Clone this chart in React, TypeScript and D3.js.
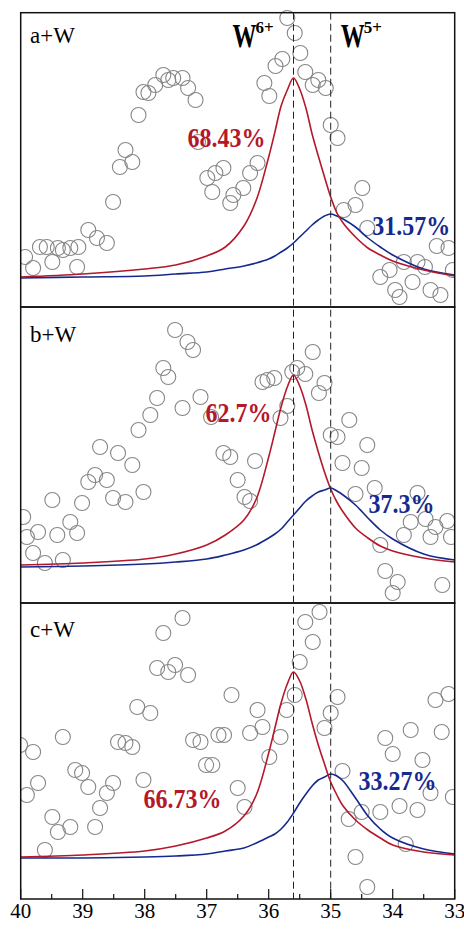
import React from 'react';
import * as d3 from 'd3';

// binding energy axis (eV), reversed
const xTicks = [40, 39, 38, 37, 36, 35, 34, 33];
const xMinor = [39.5, 38.5, 37.5, 36.5, 35.5, 34.5, 33.5];
const peakCenters = [35.6, 35.0];
const peakNames = ['6+', '5+'];

const panelNames = ['a+W', 'b+W', 'c+W'];
const redShare = ['68.43%', '62.7%', '66.73%'];
const blueShare = ['31.57%', '37.3%', '33.27%'];

// fitted components (a.u.)
const fitX = [40, 39, 38, 37.5, 37, 36.7, 36.4, 36.2, 36.0, 35.9, 35.8, 35.7, 35.6, 35.5, 35.4,
  35.3, 35.2, 35.1, 35.0, 34.9, 34.8, 34.6, 34.4, 34.2, 34.0, 33.5, 33.0];

const redA = [30, 33, 38, 42, 51, 60, 81, 107, 150, 175, 201, 217, 229, 218, 199,
  173, 151, 130, 110, 94, 84, 70, 59, 52, 46, 37, 31];
const blueA = [29, 30, 31, 33, 35, 38, 41, 44, 48, 51, 55, 59, 64, 70, 76,
  82, 87, 91, 93, 91, 88, 80, 69, 60, 52, 38, 32];

const redB = [38, 40, 44, 49, 58, 68, 83, 104, 146, 171, 196, 216, 228, 217, 198,
  173, 151, 131, 114, 101, 91, 75, 65, 57, 52, 45, 41];
const blueB = [36, 37, 39, 41, 44, 48, 53, 58, 65, 69, 74, 81, 88, 95, 102,
  107, 111, 113, 115, 112, 108, 98, 85, 73, 64, 49, 43];

const redC = [42, 44, 48, 53, 61, 68, 83, 104, 146, 171, 196, 215, 227, 218, 200,
  176, 154, 135, 117, 104, 93, 79, 69, 61, 54, 47, 44];
const blueC = [41, 41, 42, 43, 45, 48, 51, 56, 62, 65, 70, 77, 86, 96, 105,
  113, 119, 122, 125, 123, 118, 101, 83, 70, 61, 50, 45];

// measured points [binding energy, intensity]
const pointsA = [
  [39.93, 50], [39.8, 39], [39.69, 60], [39.58, 60], [39.49, 45], [39.4, 59], [39.32, 57], [39.2, 59],
  [39.09, 40], [39.07, 60], [38.91, 77], [38.77, 69], [38.61, 64], [38.51, 105], [38.4, 140], [38.31, 157],
  [38.2, 145], [38.1, 192], [38.02, 215], [37.94, 214], [37.83, 222], [37.7, 232], [37.62, 227], [37.54, 229],
  [37.39, 229], [37.3, 219], [37.18, 207], [37.14, 165], [36.99, 129], [36.86, 134], [36.73, 139], [36.91, 115],
  [36.62, 104], [36.57, 112], [36.41, 119], [36.3, 134], [36.18, 144], [36.07, 224], [35.99, 211], [35.89, 241],
  [35.78, 248], [35.7, 289], [35.58, 274], [35.49, 254], [35.41, 235], [35.29, 222], [35.2, 227], [35.08, 219],
  [35.0, 182], [34.89, 169], [34.79, 97], [34.6, 102], [34.49, 119], [34.41, 79], [34.2, 30], [34.05, 37],
  [33.96, 17], [33.89, 10], [33.82, 45], [33.68, 25], [33.6, 45], [33.48, 40], [33.39, 17], [33.29, 61],
  [33.23, 12], [33.1, 59], [33.03, 37],
];
const pointsB = [
  [39.96, 86], [39.9, 66], [39.8, 50], [39.72, 71], [39.61, 40], [39.49, 103], [39.41, 68], [39.32, 43],
  [39.2, 81], [39.09, 70], [39.01, 100], [38.91, 121], [38.8, 128], [38.72, 156], [38.61, 123], [38.51, 105],
  [38.43, 150], [38.31, 101], [38.2, 138], [38.1, 173], [38.02, 111], [37.91, 188], [37.8, 205], [37.7, 235],
  [37.62, 226], [37.51, 273], [37.39, 195], [37.31, 261], [37.22, 253], [37.1, 206], [36.93, 186], [36.73, 150],
  [36.62, 146], [36.5, 123], [36.39, 106], [36.3, 102], [36.22, 142], [36.1, 221], [36.02, 223], [35.91, 225],
  [35.81, 185], [35.7, 197], [35.62, 231], [35.54, 235], [35.41, 229], [35.29, 251], [35.19, 210], [35.1, 220],
  [35.0, 168], [34.89, 166], [34.81, 140], [34.7, 183], [34.6, 109], [34.5, 135], [34.41, 158], [34.29, 115],
  [34.2, 58], [34.12, 32], [34.0, 10], [33.92, 21], [33.82, 68], [33.71, 81], [33.6, 110], [33.47, 84],
  [33.39, 66], [33.31, 76], [33.2, 18], [33.12, 82], [33.06, 66],
];
const pointsC = [
  [40.01, 154], [39.9, 104], [39.8, 147], [39.72, 116], [39.61, 49], [39.49, 82], [39.4, 67], [39.32, 162],
  [39.2, 72], [39.12, 129], [39.01, 126], [38.91, 112], [38.8, 72], [38.72, 91], [38.61, 106], [38.51, 116],
  [38.43, 157], [38.31, 156], [38.2, 152], [38.12, 192], [38.02, 119], [37.91, 186], [37.8, 231], [37.7, 266],
  [37.62, 227], [37.51, 234], [37.39, 281], [37.3, 224], [37.22, 159], [37.1, 157], [37.01, 134], [36.91, 134],
  [36.81, 164], [36.72, 164], [36.6, 204], [36.5, 111], [36.39, 92], [36.3, 166], [36.18, 189], [36.1, 172],
  [35.99, 142], [35.81, 162], [35.71, 189], [35.58, 204], [35.5, 237], [35.41, 277], [35.29, 257], [35.18, 287],
  [35.1, 171], [35.0, 186], [34.89, 202], [34.81, 128], [34.71, 80], [34.6, 42], [34.5, 87], [34.41, 12],
  [34.2, 87], [34.12, 161], [34.0, 145], [33.89, 93], [33.79, 55], [33.71, 169], [33.6, 89], [33.52, 139],
  [33.39, 106], [33.31, 199], [33.21, 167], [33.1, 205], [33.03, 102],
];

const panels = [
  { name: panelNames[0], red: redA, blue: blueA, pts: pointsA, redTxt: redShare[0], blueTxt: blueShare[0] },
  { name: panelNames[1], red: redB, blue: blueB, pts: pointsB, redTxt: redShare[1], blueTxt: blueShare[1] },
  { name: panelNames[2], red: redC, blue: blueC, pts: pointsC, redTxt: redShare[2], blueTxt: blueShare[2] },
];

// layout
const W = 464, H = 934;
const left = 20.7, right = 454.7;
const tops = [12.7, 307, 603];
const bottoms = [307, 603, 899];
const nameY = [43, 342, 637];
const redPos = [[37.31, 160], [37.02, 181], [38.02, 91]];
const bluePos = [[34.33, 72], [34.39, 90], [34.55, 109]];
const wOffset = [-61, 10];

const serif = "Liberation Serif";
const RED = '#b3182b';
const BLUE = '#162a8e';

const x = d3.scaleLinear().domain([40, 33]).range([left, right]);

export default function App() {
  return (
    <svg width={W} height={H} style={{ position: 'absolute', left: 0, top: 0, background: '#fff' }}>
      <defs>
        <clipPath id="plotclip">
          <rect x={left} y={0} width={right - left} height={H} />
        </clipPath>
      </defs>
      {panels.map((p, i) => {
        const y = d3.scaleLinear().domain([0, 296]).range([bottoms[i], bottoms[i] - 296]);
        const line = d3.line<number>()
          .x((_, k) => x(fitX[k]))
          .y(v => y(v))
          .curve(d3.curveCatmullRom.alpha(0.5));
        return (
          <g key={p.name}>
            <g clipPath="url(#plotclip)">
              {p.pts.map((d, k) => (
                <circle key={k} cx={x(d[0])} cy={y(d[1])} r={7.5}
                  fill="none" stroke="#868686" strokeWidth={1.1} />
              ))}
            </g>
            <path d={line(p.blue) || ''} fill="none" stroke={BLUE} strokeWidth={1.6} />
            <path d={line(p.red) || ''} fill="none" stroke={RED} strokeWidth={1.6} />
            <rect x={left} y={tops[i]} width={right - left} height={bottoms[i] - tops[i]}
              fill="none" stroke="#111" strokeWidth={1.5} />
            <text x={30} y={nameY[i]} fontFamily={serif} fontSize={23}>{p.name}</text>
            <text x={x(redPos[i][0])} y={y(redPos[i][1])} fontFamily={serif} fontSize={24}
              fontWeight="bold" fill={RED} transform={`translate(0,${y(redPos[i][1])}) scale(1,1.1) translate(0,${-y(redPos[i][1])})`}>{p.redTxt}</text>
            <text x={x(bluePos[i][0])} y={y(bluePos[i][1])} fontFamily={serif} fontSize={24}
              fontWeight="bold" fill={BLUE} transform={`translate(0,${y(bluePos[i][1])}) scale(1,1.1) translate(0,${-y(bluePos[i][1])})`}>{p.blueTxt}</text>
          </g>
        );
      })}
      {peakCenters.map(c => (
        <line key={c} x1={x(c)} x2={x(c)} y1={tops[0]} y2={bottoms[2]}
          stroke="#222" strokeWidth={1} strokeDasharray="7,4" />
      ))}
      {peakCenters.map((c, i) => (
        <g key={'w' + c} transform={`translate(${x(c) + wOffset[i]},46.5)`}>
          <text transform="scale(1,1.4)" fontFamily={serif} fontSize={24} fontWeight="bold">W</text>
          <text x={23} y={-13.5} fontFamily={serif} fontSize={17} fontWeight="bold">{peakNames[i]}</text>
        </g>
      ))}
      {xTicks.map(t => (
        <g key={t}>
          <line x1={x(t)} x2={x(t)} y1={bottoms[2]} y2={bottoms[2] - 10} stroke="#111" strokeWidth={1.2} />
          <text x={x(t)} y={918} textAnchor="middle" fontFamily={serif} fontSize={21}>{t}</text>
        </g>
      ))}
      {xMinor.map(t => (
        <line key={t} x1={x(t)} x2={x(t)} y1={bottoms[2]} y2={bottoms[2] - 5} stroke="#111" strokeWidth={1.2} />
      ))}
    </svg>
  );
}
